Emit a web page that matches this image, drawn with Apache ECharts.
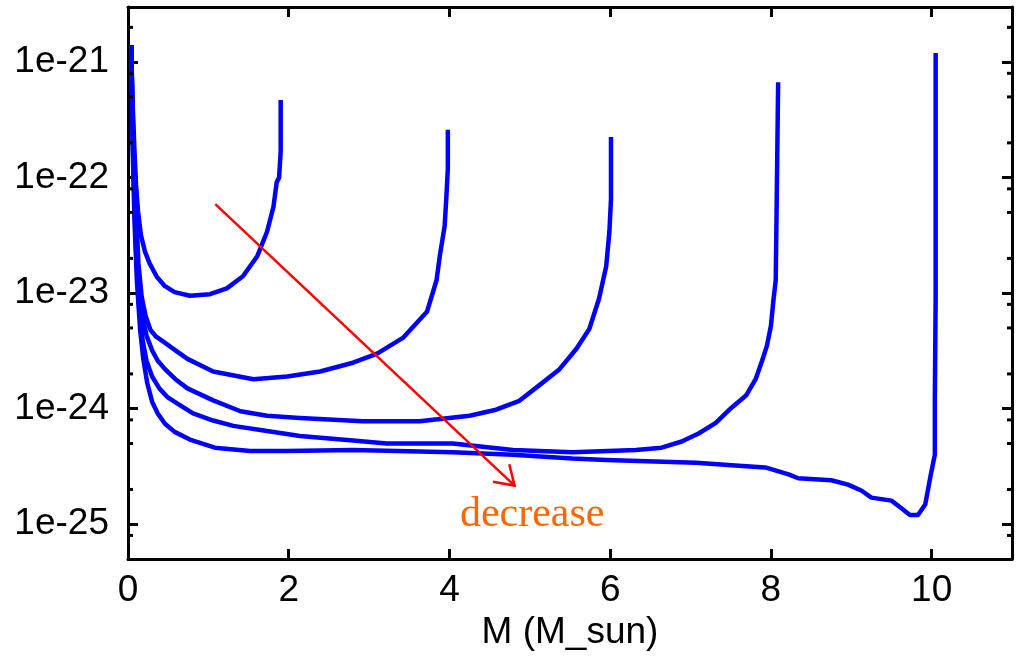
<!DOCTYPE html>
<html><head><meta charset="utf-8">
<script src="https://cdn.jsdelivr.net/npm/echarts@6/dist/echarts.min.js"></script>
<style>html,body{margin:0;padding:0;background:#fff}#c{width:1023px;height:656px}</style>
</head><body><div id="c"></div>
<script>
// ---- data ----
const curve1M = [0.04,0.056,0.08,0.10,0.125,0.16,0.21,0.27,0.36,0.46,0.58,0.77,1.02,1.23,1.43,1.61,1.73,1.81,1.85,1.88,1.90,1.90];
const curve1V = [1.4e-21,4.7e-22,1.74e-22,8.7e-23,5.1e-23,3.2e-23,2.3e-23,1.8e-23,1.38e-23,1.15e-23,1.02e-23,9.5e-24,9.8e-24,1.1e-23,1.4e-23,2.1e-23,3.4e-23,5.6e-23,9.1e-23,1.0e-22,1.7e-22,4.7e-22];

const curve2M = [0.04,0.056,0.08,0.105,0.13,0.17,0.22,0.28,0.35,0.44,0.59,0.74,1.06,1.56,1.98,2.39,2.80,3.10,3.42,3.72,3.84,3.88,3.94,3.96,3.98,3.98];
const curve2V = [1.4e-21,3.9e-22,1.17e-22,4.4e-23,1.8e-23,9.3e-24,6.3e-24,4.8e-24,4.2e-24,3.8e-24,3.2e-24,2.7e-24,2.1e-24,1.8e-24,1.9e-24,2.1e-24,2.5e-24,3.0e-24,4.1e-24,6.9e-24,1.3e-23,2.1e-23,3.8e-23,6.5e-23,1.2e-22,2.6e-22];

const curve3M = [0.04,0.056,0.08,0.105,0.14,0.18,0.23,0.30,0.37,0.46,0.59,0.74,1.06,1.40,1.73,2.14,2.92,3.63,4.25,4.58,4.87,5.12,5.37,5.58,5.74,5.86,5.95,5.99,6.01,6.01];
const curve3V = [1.4e-21,3.2e-22,8.0e-23,2.7e-23,1.1e-23,6.3e-24,4.3e-24,3.2e-24,2.6e-24,2.2e-24,1.8e-24,1.5e-24,1.18e-24,9.5e-25,8.7e-25,8.3e-25,7.8e-25,7.8e-25,8.7e-25,9.8e-25,1.17e-24,1.6e-24,2.2e-24,3.3e-24,4.9e-24,8.9e-24,1.7e-23,3.4e-23,6.5e-23,2.25e-22];

const curve4M = [0.04,0.056,0.08,0.105,0.14,0.18,0.23,0.30,0.39,0.49,0.65,0.81,1.06,1.31,1.73,2.14,2.80,3.22,3.63,4.04,4.79,5.53,6.32,6.64,6.89,7.10,7.31,7.51,7.69,7.81,7.89,7.95,8.00,8.03,8.06,8.07,8.09];
const curve4V = [1.4e-21,2.6e-22,5.9e-23,2.0e-23,7.3e-24,4.0e-24,2.6e-24,1.9e-24,1.5e-24,1.26e-24,1.07e-24,9.1e-25,7.9e-25,7.1e-25,6.4e-25,5.8e-25,5.3e-25,5.0e-25,5.0e-25,5.0e-25,4.4e-25,4.2e-25,4.4e-25,4.6e-25,5.2e-25,6.1e-25,7.5e-25,1.02e-24,1.3e-24,1.8e-24,2.6e-24,3.5e-24,5.2e-24,8.5e-24,1.3e-23,4.7e-23,6.7e-22];

const curve5M = [0.04,0.056,0.08,0.11,0.15,0.19,0.24,0.30,0.37,0.46,0.58,0.77,1.08,1.52,1.98,2.80,4.04,4.79,5.53,5.95,7.07,7.60,7.93,8.22,8.34,8.75,8.96,9.13,9.25,9.50,9.62,9.73,9.83,9.92,9.99,10.04,10.04,10.05,10.05];
const curve5V = [1.4e-21,2.1e-22,4.4e-23,1.3e-23,4.9e-24,2.7e-24,1.66e-24,1.15e-24,9.1e-25,7.4e-25,6.3e-25,5.4e-25,4.6e-25,4.3e-25,4.3e-25,4.4e-25,4.2e-25,4.0e-25,3.7e-25,3.6e-25,3.4e-25,3.2e-25,3.1e-25,2.7e-25,2.5e-25,2.4e-25,2.2e-25,1.95e-25,1.7e-25,1.6e-25,1.38e-25,1.2e-25,1.2e-25,1.48e-25,2.7e-25,4.0e-25,1.23e-24,8.9e-24,1.2e-21];

const xMin = 0, xMax = 11, xInterval = 2;
const yMin = 5e-26, yMax = 3e-21;
const yMinorTicks = [8e-26,2e-25,5e-25,8e-25,2e-24,5e-24,8e-24,2e-23,5e-23,8e-23,2e-22,5e-22,8e-22,2e-21];
const xAxisName = 'M (M_sun)';

// annotation: arrow from (M, value) to (M, value) and its label
const arrowStart = [1.086, 5.9e-23];
const arrowEnd = [4.81, 2.16e-25];
const annotationText = 'decrease';
const annotationAt = [5.03, 1.2e-25];

// ---- chart ----
// ECharts rounds very small numbers to 0 on a log axis, so the log axis works in units of 1e-26.
const UNIT_EXP = -26;
const S = Math.pow(10, -UNIT_EXP);
const sc = v => v * S;
function pairs(m, v) { return m.map((x, i) => [x, sc(v[i])]); }
const lineStyleAxis = { color: '#000', width: 3 };
const sans = 'Liberation Sans';

const xCommon = {
  type: 'value', min: xMin, max: xMax, interval: xInterval,
  axisLine: { show: true, onZero: false, lineStyle: lineStyleAxis },
  axisTick: { show: true, inside: true, length: 10, lineStyle: { color: '#000', width: 3 } },
  splitLine: { show: false }
};
const yCommon = {
  type: 'log', logBase: 10, min: sc(yMin), max: sc(yMax),
  axisLine: { show: true, onZero: false, lineStyle: lineStyleAxis },
  axisTick: { show: true, inside: true, length: 10, lineStyle: { color: '#000', width: 3 } },
  splitLine: { show: false }, minorTick: { show: false }
};
function expOf(v) { return Math.log10(v) + UNIT_EXP; }
function isPow10(v) { const e = Math.log10(v); return Math.abs(e - Math.round(e)) < 1e-6; }

const curveSeries = [[curve1M, curve1V], [curve2M, curve2V], [curve3M, curve3V], [curve4M, curve4V], [curve5M, curve5V]].map(c => ({
  type: 'line', data: pairs(c[0], c[1]), showSymbol: false, symbol: 'none',
  lineStyle: { color: '#0000ff', width: 4.5, join: 'round', cap: 'butt' },
  itemStyle: { color: '#0000ff' }, z: 3, silent: true
}));

const chart = echarts.init(document.getElementById('c'), null, { renderer: 'canvas' });
chart.setOption({
  animation: false,
  backgroundColor: '#fff',
  grid: { left: 128, top: 7, width: 884, height: 554, containLabel: false },
  xAxis: [
    Object.assign({}, xCommon, {
      position: 'bottom',
      axisLabel: { show: true, fontSize: 37, fontFamily: sans, color: '#000', margin: 13,
        formatter: v => (v % xInterval === 0 ? String(v) : '') },
      name: xAxisName, nameLocation: 'middle', nameGap: 55,
      nameTextStyle: { fontSize: 37, fontFamily: sans, color: '#000' }
    }),
    Object.assign({}, xCommon, { position: 'top', axisLabel: { show: false } })
  ],
  yAxis: [
    Object.assign({}, yCommon, {
      position: 'left',
      axisLabel: { show: true, fontSize: 37, fontFamily: sans, color: '#000', margin: 19,
        formatter: v => (isPow10(v) ? '1e' + Math.round(expOf(v)) : '') }
    }),
    Object.assign({}, yCommon, { position: 'right', axisLabel: { show: false } })
  ],
  series: curveSeries.concat([
    {
      type: 'custom', silent: true, z: 4,
      data: yMinorTicks.map(v => [xMin, sc(v)]),
      renderItem: function (params, api) {
        const v = api.value(1);
        const pl = api.coord([xMin, v]);
        const pr = api.coord([xMax, v]);
        return { type: 'group', children: [
          { type: 'line', shape: { x1: pl[0], y1: pl[1], x2: pl[0] + 5, y2: pl[1] }, style: { stroke: '#000', lineWidth: 3 } },
          { type: 'line', shape: { x1: pr[0] - 5, y1: pr[1], x2: pr[0], y2: pr[1] }, style: { stroke: '#000', lineWidth: 3 } }
        ] };
      }
    },
    {
      type: 'custom', silent: true, z: 5,
      data: [[arrowStart[0], sc(arrowStart[1]), arrowEnd[0], sc(arrowEnd[1])]],
      encode: { x: [0, 2], y: [1, 3] },
      renderItem: function (params, api) {
        const s = api.coord([api.value(0), api.value(1)]);
        const e = api.coord([api.value(2), api.value(3)]);
        const ang = Math.atan2(e[1] - s[1], e[0] - s[0]);
        const L = 22, a = 33 * Math.PI / 180;
        const w1 = [e[0] - L * Math.cos(ang - a), e[1] - L * Math.sin(ang - a)];
        const w2 = [e[0] - L * Math.cos(ang + a), e[1] - L * Math.sin(ang + a)];
        const st = { stroke: '#ff0000', lineWidth: 2.5, fill: null };
        return { type: 'group', children: [
          { type: 'line', shape: { x1: s[0], y1: s[1], x2: e[0], y2: e[1] }, style: st },
          { type: 'polyline', shape: { points: [w1, e, w2] }, style: st }
        ] };
      }
    },
    {
      type: 'custom', silent: true, z: 5,
      data: [[annotationAt[0], sc(annotationAt[1])]],
      renderItem: function (params, api) {
        const p = api.coord([api.value(0), api.value(1)]);
        return { type: 'text', x: p[0], y: p[1],
          style: { text: annotationText, fill: '#ff6600', fontSize: 42, fontFamily: 'Liberation Serif',
            align: 'center', verticalAlign: 'middle' } };
      }
    }
  ])
});
</script></body></html>
